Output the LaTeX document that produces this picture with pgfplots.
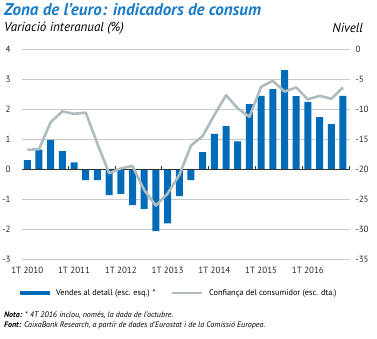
\documentclass[border=0pt]{standalone}
\usepackage{pgfplots}
\pgfplotsset{compat=1.18}
\usepackage{fontspec}
\setmainfont{PT Sans}
\definecolor{cbblue}{HTML}{006BB8}
\definecolor{titleblue}{HTML}{1A7CC6}
\definecolor{cbgray}{HTML}{AEBBBF}
\definecolor{gridgray}{HTML}{C8C8C8}
\begin{document}
\begin{tikzpicture}
\pgfplotsset{
  common/.style={
    scale only axis, width=328pt, height=210pt,
    xmin=-0.45, xmax=27.6,
    /pgf/number format/assume math mode=true,
    ticklabel style={font=\fontsize{9}{10}\selectfont, text=black!85},
    major tick length=0pt,
    axis line style={draw=none},
  }
}
\begin{axis}[common,
  ymin=-3, ymax=4, ytick={-3,-2,...,4},
  axis x line*=bottom, axis y line*=left,
  ymajorgrids, grid style={gridgray, line width=0.5pt},
  xtick={0,4,...,24},
  xticklabels={1T 2010,1T 2011,1T 2012,1T 2013,1T 2014,1T 2015,1T 2016},
  xticklabel style={yshift=-4.5pt},
  yticklabel style={anchor=east, xshift=-8pt},
]
\addplot[ybar, bar width=7pt, fill=cbblue, draw=none] coordinates {
(0,0.30) (1,0.65) (2,0.97) (3,0.60) (4,0.22) (5,-0.37) (6,-0.37) (7,-0.87)
(8,-0.83) (9,-1.20) (10,-1.33) (11,-2.07) (12,-1.81) (13,-0.90) (14,-0.37) (15,0.56)
(16,1.17) (17,1.43) (18,0.92) (19,2.16) (20,2.44) (21,2.66) (22,3.30) (23,2.43)
(24,2.24) (25,1.73) (26,1.50) (27,2.44)};
\draw[black!80, line width=0.7pt] (axis cs:-0.45,0) -- (axis cs:27.6,0);
\pgfplotsinvokeforeach{3.5,7.5,11.5,15.5,19.5,23.5,27.5}{
  \draw[black!80, line width=0.6pt] (axis cs:#1,0) -- (axis cs:#1,0.1);
}
\end{axis}
\begin{axis}[common,
  ymin=-35, ymax=0, ytick={-35,-30,...,0},
  axis y line*=right, axis x line=none,
  yticklabel style={anchor=west, xshift=2pt},
]
\addplot[cbgray, line width=2.6pt, line join=round] coordinates {
(0,-16.8) (1,-16.7) (2,-12.2) (3,-10.4) (4,-10.8) (5,-10.6) (6,-15.8) (7,-20.7)
(8,-19.9) (9,-19.5) (10,-23.5) (11,-26.1) (12,-24.1) (13,-21.0) (14,-16.1) (15,-14.5)
(16,-11.0) (17,-7.7) (18,-9.9) (19,-11.3) (20,-6.3) (21,-5.3) (22,-7.1) (23,-6.4)
(24,-8.4) (25,-7.8) (26,-8.3) (27,-6.4)};
\end{axis}
% titles
\node[anchor=west, inner sep=0pt, text=titleblue, font=\fontsize{17}{18}\selectfont\bfseries\itshape] at (-18pt,249pt) {Zona de l’euro: indicadors de consum};
\node[anchor=west, inner sep=0pt, font=\fontsize{13}{14}\selectfont\itshape] at (-18pt,231pt) {Variació interanual (\%)};
\node[anchor=east, inner sep=0pt, font=\fontsize{13}{14}\selectfont\itshape] at (341pt,231pt) {Nivell};
% legend
\fill[cbblue] (-2pt,-36pt) rectangle (28pt,-32pt);
\node[anchor=west, inner sep=0pt, font=\fontsize{8.3}{10}\selectfont] at (34pt,-34pt) {Vendes al detall (esc. esq.) *};
\draw[cbgray, line width=2.6pt] (150pt,-34pt) -- (180pt,-34pt);
\node[anchor=west, inner sep=0pt, font=\fontsize{8.3}{10}\selectfont] at (187pt,-34pt) {Confiança del consumidor (esc. dta.)};
% notes
\node[anchor=west, inner sep=0pt, font=\fontsize{8}{10}\selectfont\itshape] at (-18pt,-56pt) {\textbf{Nota:} * 4T 2016 inclou, només, la dada de l’octubre.};
\node[anchor=west, inner sep=0pt, font=\fontsize{8}{10}\selectfont\itshape] at (-18pt,-66pt) {\textbf{Font:} CaixaBank Research, a partir de dades d’Eurostat i de la Comissió Europea.};
\pgfresetboundingbox
\useasboundingbox (-22pt,-79pt) rectangle (355pt,259pt);
\end{tikzpicture}
\end{document}
